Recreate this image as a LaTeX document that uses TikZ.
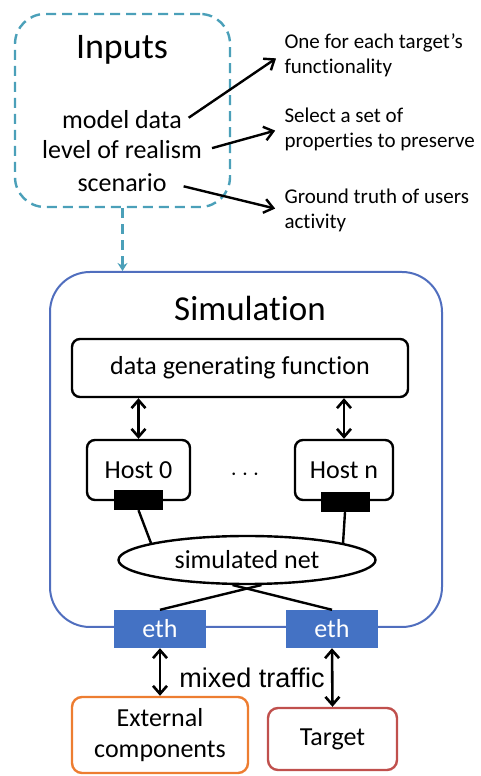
\documentclass[tikz,border=0pt]{standalone}
\usepackage{fontspec}
\setmainfont{Carlito}[Ligatures={TeX,NoCommon}]
\newfontfamily\arialfont{Liberation Sans}
\usetikzlibrary{arrows.meta}
\usetikzlibrary{positioning}
\usetikzlibrary{shapes.geometric}
\definecolor{inpcol}{RGB}{75,160,185}
\definecolor{simcol}{RGB}{80,110,190}
\definecolor{ethcol}{RGB}{68,114,196}
\definecolor{extcol}{RGB}{237,125,49}
\definecolor{tgtcol}{RGB}{192,80,77}
\newcommand{\bigtxt}{\fontsize{36}{43}\selectfont}
\newcommand{\midtxt}{\fontsize{26}{31}\selectfont}
\newcommand{\smalltxt}{\fontsize{21}{25}\selectfont}

\begin{document}
\begin{tikzpicture}[x=1pt,y=1pt,
  blk/.style={draw,line width=2.4pt,rounded corners=8pt,inner sep=0pt,font=\midtxt},
  port/.style={fill=black,minimum width=49,minimum height=20,inner sep=0pt},
  eth/.style={fill=ethcol,text=white,minimum width=92,minimum height=38,inner sep=0pt,font=\midtxt},
  arr/.style={-{Straight Barb[length=9pt,width=14pt]},line width=2.4pt},
  dbl/.style={{Straight Barb[length=8pt,width=14pt]}-{Straight Barb[length=8pt,width=14pt]},line width=2.6pt}]
  \useasboundingbox (0,0) rectangle (480,776);

  \node[draw=inpcol,line width=2.4pt,dash pattern=on 10pt off 6pt,rounded corners=30pt,minimum width=215,minimum height=193] (inp) at (122.5,665.5) {};
  \node[font=\bigtxt] (inptitle) at (122,726) {Inputs};
  \node[font=\midtxt] (md) at (122,656) {model data};
  \node[font=\midtxt] (lr) at (122,626) {level of realism};
  \node[font=\midtxt] (sc) at (122,593) {scenario};

  \node[anchor=west,align=left,font=\smalltxt] (n1) at (281,721) {One for each target's\\functionality};
  \node[anchor=west,align=left,font=\smalltxt] (n2) at (281,647) {Select a set of\\properties to preserve};
  \node[anchor=west,align=left,font=\smalltxt] (n3) at (281,566) {Ground truth of users\\activity};
  \draw[arr,shorten <=4pt,shorten >=6pt] (md.east) -- (n1.west);
  \draw[arr,shorten <=7pt,shorten >=6pt] (lr.east) -- (n2.west);
  \draw[arr,shorten <=14pt,shorten >=6pt] (sc.east) -- (n3.west);

  \node[draw=simcol,line width=2pt,rounded corners=40pt,minimum width=392,minimum height=355] (sim) at (246,326.5) {};
  \draw[inpcol,line width=2.4pt,dash pattern=on 10pt off 6pt,-{Stealth[length=8pt,width=10pt]}] (inp.south) -- (inp.south |- sim.north);
  \node[font=\fontsize{35}{42}\selectfont] (simtitle) at (250,468) {Simulation};

  \node[blk,minimum width=336,minimum height=58] (dgf) at (240,408) {data generating function};
  \node[blk,minimum width=103,minimum height=60] (h0) at (138.5,306) {Host 0};
  \node[blk,minimum width=98,minimum height=60] (hn) at (344,306) {Host n};
  \node[font=\midtxt] (dots) at (245,301) {$\cdots$};
  \node[port] (p0) at (138.5,276) {};
  \node[port] (pn) at (345,274) {};
  \draw[dbl] (h0.north |- dgf.south) -- (h0.north);
  \draw[dbl] (hn.north |- dgf.south) -- (hn.north);

  \node[draw,ellipse,line width=2.4pt,minimum width=257,minimum height=48,inner sep=0pt,font=\midtxt] (net) at (247,216) {simulated net};
  \draw[line width=2.4pt] (p0.south) -- (net.170);
  \draw[line width=2.4pt] (pn.south) -- (net.10);

  \node[eth] (ethL) at (160,147) {eth};
  \node[eth] (ethR) at (332,147) {eth};
  \draw[line width=2.4pt] (ethL.north) -- (net.-60);
  \draw[line width=2.4pt] (ethR.north) -- (net.-120);

  \node[draw=extcol,line width=2.4pt,rounded corners=10pt,minimum width=176,minimum height=76,align=center,font=\midtxt] (ext) at (160,41) {External\\components};
  \node[draw=tgtcol,line width=2.4pt,rounded corners=10pt,minimum width=129,minimum height=62,font=\midtxt] (tgt) at (332.5,37) {Target};
  \draw[dbl] (ethL.south) -- (ext.north);
  \draw[dbl] (ethR.south) -- (tgt.north);
  \node[font=\fontsize{27}{32}\selectfont\arialfont] (mix) at (252,98) {mixed traffic};
\end{tikzpicture}
\end{document}
